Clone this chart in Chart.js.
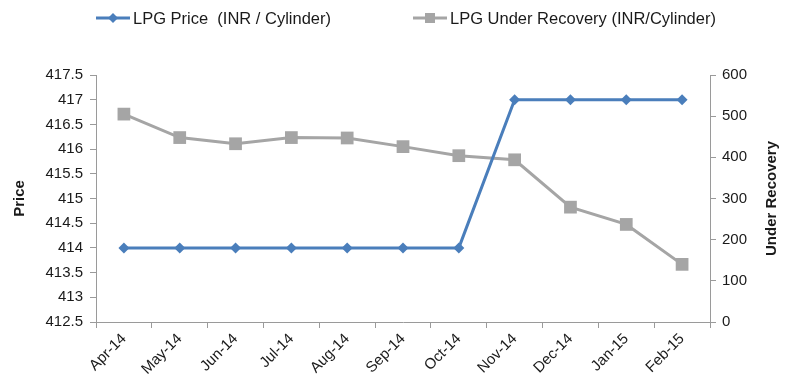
<!DOCTYPE html>
<html>
<head>
<meta charset="utf-8">
<script src="https://cdn.jsdelivr.net/npm/chart.js@4/dist/chart.umd.min.js"></script>
<style>
  html, body { margin: 0; padding: 0; background: #fff; }
  #wrap { width: 786px; height: 389px; }
</style>
</head>
<body>
<div id="wrap"><canvas id="lpgChart" width="786" height="389"></canvas></div>
<script>
const months = ['Apr-14', 'May-14', 'Jun-14', 'Jul-14', 'Aug-14', 'Sep-14', 'Oct-14', 'Nov-14', 'Dec-14', 'Jan-15', 'Feb-15']
const lpgPrice = [414, 414, 414, 414, 414, 414, 414, 417, 417, 417, 417]
const underRecovery = [505, 448, 433, 448, 447, 426, 404, 394, 279, 237, 140]

const priceLabel = 'LPG Price  (INR / Cylinder)'
const recoveryLabel = 'LPG Under Recovery (INR/Cylinder)'

const blue = '#4a7ebb'
const grey = '#a5a5a5'
const axisGrey = '#9a9a9a'
const textColor = '#1a1a1a'
const fontFamily = '"Liberation Sans", Arial, Helvetica, sans-serif'

// legend (line + marker) and the two rotated axis titles
const decorations = {
  id: 'decorations',
  afterDraw(chart) {
    const c = chart.ctx
    const area = chart.chartArea
    c.save()

    function legendItem(x, y, color, marker, text) {
      c.strokeStyle = color
      c.lineWidth = 3
      c.beginPath()
      c.moveTo(x, y)
      c.lineTo(x + 34, y)
      c.stroke()
      c.fillStyle = color
      const mx = x + 17
      if (marker === 'diamond') {
        c.beginPath()
        c.moveTo(mx, y - 5)
        c.lineTo(mx + 5, y)
        c.lineTo(mx, y + 5)
        c.lineTo(mx - 5, y)
        c.closePath()
        c.fill()
      } else {
        c.fillRect(mx - 5, y - 5, 10, 10)
      }
      c.fillStyle = textColor
      c.font = '16.5px ' + fontFamily
      c.textAlign = 'left'
      c.textBaseline = 'middle'
      c.fillText(text, x + 37, y + 1)
    }

    legendItem(96, 18, blue, 'diamond', priceLabel)
    legendItem(413, 18, grey, 'square', recoveryLabel)

    c.font = 'bold 15px ' + fontFamily
    c.fillStyle = textColor
    c.textAlign = 'center'
    c.textBaseline = 'middle'
    const midY = (area.top + area.bottom) / 2

    c.save()
    c.translate(20, midY)
    c.rotate(-Math.PI / 2)
    c.fillText('Price', 0, 0)
    c.restore()

    c.save()
    c.translate(772, midY)
    c.rotate(-Math.PI / 2)
    c.fillText('Under Recovery', 0, 0)
    c.restore()

    c.restore()
  }
}

const tickFont = { family: fontFamily, size: 15 }

new Chart(document.getElementById('lpgChart'), {
  type: 'line',
  data: {
    labels: months,
    datasets: [{
      label: priceLabel,
      data: lpgPrice,
      yAxisID: 'price',
      borderColor: blue,
      backgroundColor: blue,
      borderWidth: 3,
      pointStyle: 'rectRot',
      pointRadius: 5.5,
      pointBorderWidth: 0,
      tension: 0
    }, {
      label: recoveryLabel,
      data: underRecovery,
      yAxisID: 'recovery',
      borderColor: grey,
      backgroundColor: grey,
      borderWidth: 3,
      pointStyle: 'rect',
      pointRadius: 9,
      pointBorderWidth: 0,
      tension: 0
    }]
  },
  options: {
    responsive: false,
    animation: false,
    layout: { padding: { top: 75, left: 0, right: 0, bottom: 0 } },
    plugins: {
      legend: { display: false },
      tooltip: { enabled: false }
    },
    scales: {
      x: {
        offset: true,
        grid: { offset: true, drawOnChartArea: false, drawTicks: true, tickLength: 6, color: axisGrey },
        border: { display: true, color: axisGrey, width: 1 },
        ticks: { color: textColor, font: tickFont, minRotation: 45, maxRotation: 45, padding: 2 },
        afterFit(scale) { scale.height = 67 }
      },
      price: {
        position: 'left',
        min: 412.5,
        max: 417.5,
        grid: { drawOnChartArea: false, drawTicks: true, tickLength: 6, color: axisGrey },
        border: { display: true, color: axisGrey, width: 1 },
        ticks: { stepSize: 0.5, color: textColor, font: tickFont, padding: 7, callback: v => String(v) },
        afterFit(scale) { scale.width = 96 }
      },
      recovery: {
        position: 'right',
        min: 0,
        max: 600,
        grid: { drawOnChartArea: false, drawTicks: true, tickLength: 6, color: axisGrey },
        border: { display: true, color: axisGrey, width: 1 },
        ticks: { stepSize: 100, color: textColor, font: tickFont, padding: 6 },
        afterFit(scale) { scale.width = 76 }
      }
    }
  },
  plugins: [decorations]
})
</script>
</body>
</html>
